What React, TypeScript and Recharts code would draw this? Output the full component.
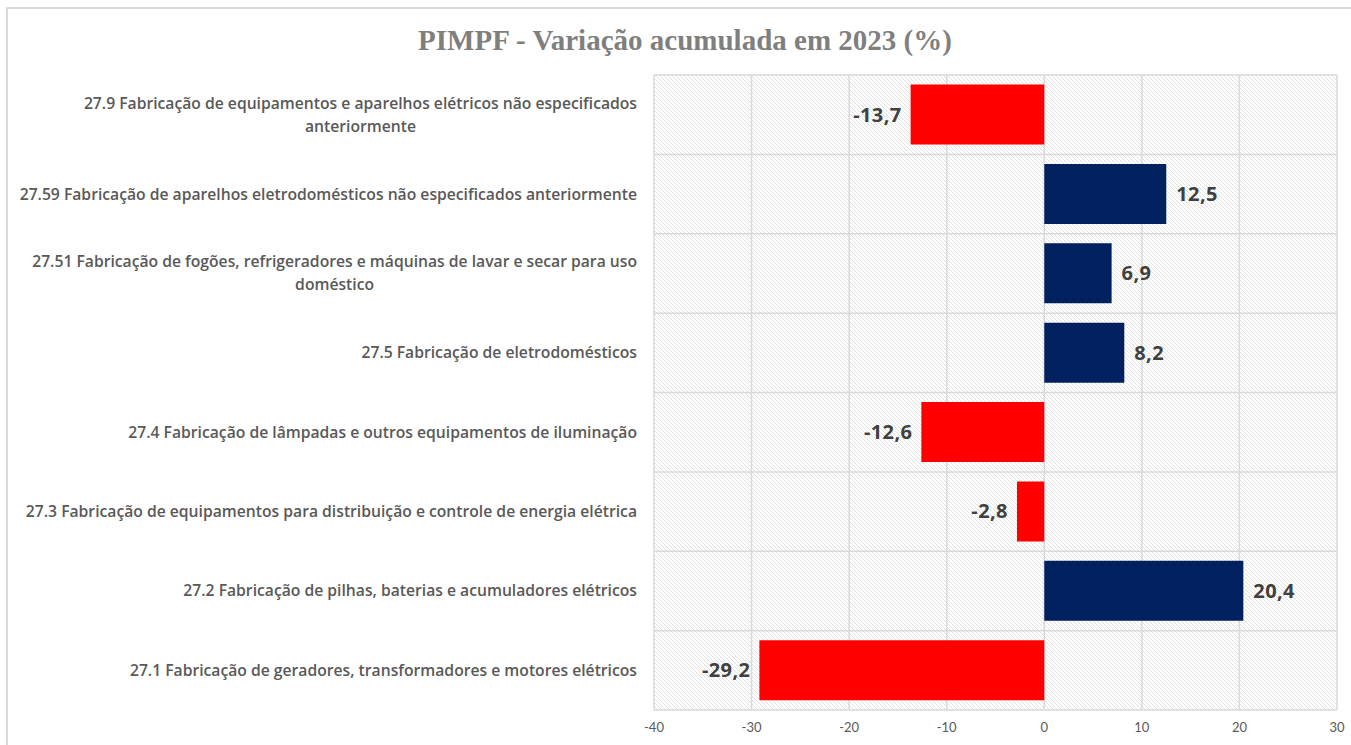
import React from "react";
import {
  BarChart,
  Bar,
  XAxis,
  YAxis,
  CartesianGrid,
  Cell,
  LabelList,
} from "recharts";

const categories = [
  "27.9 Fabricação de equipamentos e aparelhos elétricos não especificados anteriormente",
  "27.59 Fabricação de aparelhos eletrodomésticos não especificados anteriormente",
  "27.51 Fabricação de fogões, refrigeradores e máquinas de lavar e secar para uso doméstico",
  "27.5 Fabricação de eletrodomésticos",
  "27.4 Fabricação de lâmpadas e outros equipamentos de iluminação",
  "27.3 Fabricação de equipamentos para distribuição e controle de energia elétrica",
  "27.2 Fabricação de pilhas, baterias e acumuladores elétricos",
  "27.1 Fabricação de geradores, transformadores e motores elétricos",
];
const values = [-13.7, 12.5, 6.9, 8.2, -12.6, -2.8, 20.4, -29.2];
const xTicks = [-40, -30, -20, -10, 0, 10, 20, 30];
const title = "PIMPF - Variação acumulada em 2023 (%)";

const data = categories.map((c, i) => ({ name: c, value: values[i] }));

const LABEL_FONT = "'Open Sans', Lato, sans-serif";
const LABEL_SIZE = 15.7;
const WRAP = 630;

let ctx: CanvasRenderingContext2D | null = null;
function measure(t: string): number {
  if (!ctx) {
    const c = document.createElement("canvas");
    ctx = c.getContext("2d");
  }
  if (!ctx) return t.length * 7.8;
  ctx.font = `600 ${LABEL_SIZE}px 'Open Sans'`;
  return ctx.measureText(t).width;
}

function wrap(text: string): string[] {
  const words = text.split(" ");
  const lines: string[] = [];
  let cur = "";
  for (const w of words) {
    const test = cur ? cur + " " + w : w;
    if (measure(test) > WRAP && cur) {
      lines.push(cur);
      cur = w;
    } else cur = test;
  }
  if (cur) lines.push(cur);
  return lines;
}

const YTick = (props: any) => {
  const { x, y, payload } = props;
  const lines = wrap(String(payload.value));
  const widths = lines.map(measure);
  const maxW = Math.max(...widths);
  const lh = 23;
  const startY = y - ((lines.length - 1) * lh) / 2;
  return (
    <g>
      {lines.map((l, i) => (
        <text
          key={i}
          x={lines.length > 1 ? x - maxW / 2 : x}
          y={startY + i * lh}
          dy="0.35em"
          textAnchor={lines.length > 1 ? "middle" : "end"}
          fill="#595959"
          fontFamily={LABEL_FONT}
          fontWeight={600}
          fontSize={LABEL_SIZE}
        >
          {l}
        </text>
      ))}
    </g>
  );
};

const ValueLabel = (props: any) => {
  const { x, y, width, height, value } = props;
  const left = Math.min(x, x + width);
  const right = Math.max(x, x + width);
  const neg = value < 0;
  return (
    <text
      x={neg ? left - 9 : right + 10}
      y={y + height / 2}
      dy="0.35em"
      textAnchor={neg ? "end" : "start"}
      fill="#404040"
      fontFamily={LABEL_FONT}
      fontWeight={700}
      fontSize={20}
      letterSpacing={0.4}
    >
      {String(value).replace(".", ",")}
    </text>
  );
};

export default function App() {
  return (
    <div
      style={{
        position: "fixed",
        left: 0,
        top: 0,
        width: 1351,
        height: 745,
        background: "#fff",
        overflow: "hidden",
      }}
    >
      <div
        style={{
          position: "absolute",
          left: 6,
          top: 7,
          width: 1400,
          height: 800,
          borderLeft: "2px solid #d9d9d9",
          borderTop: "2px solid #d9d9d9",
        }}
      />
      <div
        style={{
          position: "absolute",
          left: 0,
          width: 1370,
          top: 22,
          textAlign: "center",
          fontFamily: "'Liberation Serif', serif",
          fontWeight: "bold",
          fontSize: 29,
          color: "#7f7f7f",
          lineHeight: "36px",
        }}
      >
        {title}
      </div>
      <div style={{ position: "absolute", left: 0, top: 0 }}>
        <BarChart
          width={1351}
          height={745}
          data={data}
          layout="vertical"
          margin={{ top: 75, right: 14, bottom: 0, left: 0 }}
          barCategoryGap="12%"
        >
          <defs>
            <pattern
              id="hatch"
              patternUnits="userSpaceOnUse"
              width={4}
              height={4}
            >
              <rect width={4} height={4} fill="#ffffff" />
              <path d="M-1,-1 L5,5 M-1,3 L1,5 M3,-1 L5,1" stroke="#e2e2e2" strokeWidth={1} />
            </pattern>
          </defs>
          <CartesianGrid
            fill="url(#hatch)"
            stroke="#d9d9d9"
            strokeWidth={1.5}
            horizontalCoordinatesGenerator={({ offset }: any) => {
              const n = categories.length;
              const out: number[] = [];
              for (let i = 0; i <= n; i++) out.push(offset.top + (offset.height * i) / n);
              return out;
            }}
          />
          <XAxis
            type="number"
            domain={[-40, 30]}
            ticks={xTicks}
            axisLine={false}
            tickLine={false}
            tickSize={0}
            tickMargin={13}
            height={35}
            tick={{ fill: "#595959", fontSize: 13, fontFamily: "Lato, sans-serif" }}
            interval={0}
          />
          <YAxis
            type="category"
            dataKey="name"
            width={654}
            axisLine={false}
            tickLine={false}
            tickSize={0}
            tickMargin={17}
            tick={<YTick />}
            interval={0}
          />
          <Bar dataKey="value" isAnimationActive={false}>
            {data.map((d, i) => (
              <Cell key={i} fill={d.value < 0 ? "#ff0000" : "#002060"} />
            ))}
            <LabelList dataKey="value" content={<ValueLabel />} />
          </Bar>
        </BarChart>
      </div>
    </div>
  );
}
